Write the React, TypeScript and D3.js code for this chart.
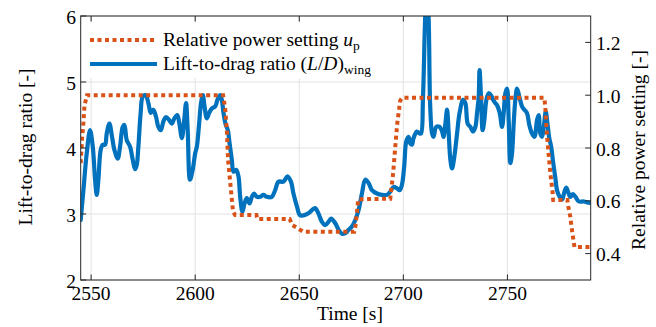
import React from "react";
import * as d3 from "d3";

// ---- data ----
const xTicks = [2550, 2600, 2650, 2700, 2750];
const leftTicks = [2, 3, 4, 5, 6];
const rightTicks = [0.4, 0.6, 0.8, 1.0, 1.2];

// Lift-to-drag ratio (L/D)_wing vs time [s]
const liftToDrag: [number, number][] = [
  [2545.0,2.91],[2546.3,3.36],[2547.9,3.92],[2549.5,4.27],[2550.8,4.02],[2551.9,3.52],[2552.7,3.29],[2553.5,3.52],[2554.6,3.97],[2555.6,4.05],
  [2556.7,4.05],[2557.5,4.22],[2558.8,4.37],[2559.9,4.2],[2561.2,3.97],[2562.8,3.84],[2563.9,4.02],[2565.2,4.32],[2566.0,4.35],[2567.1,4.12],
  [2568.7,4.02],[2570.0,3.82],[2571.1,3.68],[2571.9,3.74],[2572.7,4.02],[2573.8,4.53],[2574.8,4.78],[2576.2,4.8],[2577.5,4.68],[2578.7,4.53],
  [2579.9,4.58],[2581.2,4.47],[2582.3,4.32],[2583.5,4.27],[2584.7,4.4],[2586.0,4.47],[2587.6,4.42],[2588.8,4.37],[2590.0,4.45],[2591.4,4.5],
  [2592.4,4.37],[2593.6,4.15],[2594.7,4.42],[2595.6,4.68],[2596.4,4.27],[2597.5,3.52],[2598.8,3.67],[2600.0,3.92],[2600.8,4.02],[2601.9,4.37],
  [2602.8,4.68],[2603.7,4.8],[2604.4,4.65],[2605.6,4.45],[2606.7,4.53],[2608.0,4.6],[2609.6,4.63],[2610.7,4.73],[2612.0,4.8],[2612.8,4.73],
  [2613.6,4.53],[2614.7,4.35],[2615.7,4.27],[2616.4,4.1],[2617.6,3.82],[2618.4,3.64],[2619.7,3.67],[2620.8,3.57],[2621.6,3.26],[2622.7,3.03],
  [2623.7,3.16],[2624.8,3.24],[2626.1,3.16],[2627.2,3.26],[2628.3,3.31],[2629.6,3.26],[2631.2,3.26],[2632.8,3.29],[2634.4,3.26],[2636.8,3.26],
  [2638.4,3.36],[2640.0,3.49],[2642.4,3.49],[2644.3,3.57],[2646.0,3.49],[2647.2,3.31],[2648.9,3.11],[2650.4,2.98],[2652.0,2.98],[2654.4,3.01],
  [2656.1,3.06],[2657.6,3.09],[2659.2,3.01],[2660.9,2.88],[2662.5,2.83],[2664.0,2.88],[2665.3,2.93],[2667.3,2.86],[2668.9,2.76],[2670.5,2.7],
  [2672.1,2.71],[2673.7,2.76],[2675.3,2.81],[2676.9,2.91],[2678.5,3.06],[2680.1,3.31],[2681.7,3.52],[2683.3,3.47],[2684.9,3.36],[2687.3,3.31],
  [2689.7,3.29],[2692.1,3.29],[2693.7,3.34],[2695.3,3.41],[2696.9,3.39],[2698.2,3.36],[2699.3,3.44],[2700.4,3.72],[2701.4,4.1],[2702.5,4.17],
  [2703.3,4.07],[2704.1,4.05],[2704.9,4.15],[2706.5,4.25],[2707.8,4.22],[2708.5,4.22],[2709.4,4.73],[2710.4,5.9],[2711.3,6.6],[2712.2,5.9],
  [2712.9,4.63],[2713.8,4.22],[2714.5,4.17],[2715.8,4.32],[2717.4,4.32],[2718.6,4.25],[2719.3,4.17],[2720.2,4.37],[2721.0,4.58],[2721.7,4.27],
  [2722.6,3.82],[2723.4,3.69],[2724.5,3.87],[2725.8,4.22],[2727.0,4.53],[2728.7,4.73],[2729.8,4.68],[2730.9,4.37],[2732.2,4.32],[2733.5,4.25],
  [2734.6,4.32],[2735.4,4.53],[2736.2,4.78],[2736.6,5.18],[2737.3,4.78],[2738.1,4.27],[2738.9,4.42],[2739.9,4.73],[2741.0,4.83],[2742.1,4.8],
  [2743.1,4.73],[2744.2,4.68],[2745.0,4.65],[2746.3,4.53],[2747.4,4.32],[2748.2,4.53],[2749.0,4.83],[2749.8,4.9],[2750.6,4.42],[2751.4,3.77],
  [2752.2,3.92],[2753.0,4.37],[2753.8,4.73],[2754.6,4.9],[2755.7,4.78],[2757.0,4.63],[2758.1,4.58],[2759.4,4.53],[2760.5,4.35],[2761.8,4.22],
  [2763.0,4.17],[2764.2,4.42],[2765.0,4.5],[2765.8,4.22],[2766.6,4.17],[2767.4,4.3],[2768.4,4.55],[2769.3,4.35],[2770.1,4.15],[2771.0,4.02],
  [2771.9,3.8],[2773.0,3.55],[2773.9,3.35],[2775.1,3.26],[2776.3,3.22],[2777.0,3.29],[2778.2,3.4],[2779.1,3.34],[2780.2,3.26],[2781.5,3.3],
  [2782.7,3.26],[2784.3,3.19],[2786.7,3.19],[2789.1,3.17],[2790.0,3.17],
];

// Relative power setting u_p vs time [s]
const powerTime = [2545, 2545.6, 2546.3, 2546.8, 2548, 2613.4, 2614.4, 2615.2, 2615.8, 2617.3, 2618.2, 2619.2, 2629.4, 2629.9, 2645.4, 2646.6, 2649.0, 2651.9, 2676.4, 2676.9, 2677.6, 2678.3, 2693.7, 2695.1, 2696.1, 2697.1, 2698.5, 2699.5, 2767.7, 2768.2, 2768.7, 2769.6, 2770.6, 2771.6, 2772.0, 2778.8, 2779.3, 2780.2, 2781.2, 2782.2, 2790];
const powerSetting = [0.743, 0.83, 0.895, 0.96, 1.0, 1.0, 0.95, 0.868, 0.755, 0.63, 0.558, 0.546, 0.546, 0.531, 0.531, 0.508, 0.497, 0.483, 0.483, 0.5, 0.546, 0.606, 0.608, 0.705, 0.804, 0.895, 0.98, 0.99, 0.99, 0.955, 0.88, 0.792, 0.705, 0.64, 0.603, 0.603, 0.576, 0.539, 0.478, 0.425, 0.425];

// ---- layout ----
const W = 656, H = 327;
const L = 80.7, R = 590.7, T = 16, B = 280;
const FONT = "'Liberation Serif', 'Times New Roman', serif";
const FS = 19.5;
const AX = "#262626";
const BLUE = "#0072BD";
const ORANGE = "#D95319";

export default function App() {
  const x = d3.scaleLinear().domain([2545, 2790]).range([L, R]);
  const yL = d3.scaleLinear().domain([2, 6]).range([B, T]);
  const yR = d3.scaleLinear().domain([0.3, 1.3]).range([B, T]);

  const blueLine = d3.line<[number, number]>()
    .x(d => x(d[0])).y(d => yL(d[1]))
    .curve(d3.curveCatmullRom.alpha(0.5))(liftToDrag) || "";
  const powerPts = powerTime.map((t, i) => [t, powerSetting[i]] as [number, number]);
  const orangeLine = d3.line<[number, number]>().x(d => x(d[0])).y(d => yR(d[1]))(powerPts) || "";

  const tk = 5.5;
  return (
    <svg width={W} height={H} style={{ position: "absolute", left: 0, top: 0, background: "#fff" }} fontFamily={FONT}>
      <defs>
        <clipPath id="plotClip">
          <rect x={L} y={T} width={R - L} height={B - T} />
        </clipPath>
      </defs>
      <rect x={0} y={0} width={W} height={H} fill="#fff" />
      {/* grid */}
      <g stroke="#e3e3e3" strokeWidth={1}>
        {xTicks.map(t => <line key={"gx" + t} x1={x(t)} x2={x(t)} y1={T} y2={B} />)}
        {leftTicks.map(t => <line key={"gy" + t} x1={L} x2={R} y1={yL(t)} y2={yL(t)} />)}
      </g>
      {/* data */}
      <g clipPath="url(#plotClip)">
        <path d={blueLine} fill="none" stroke={BLUE} strokeWidth={4.2} strokeLinejoin="round" strokeLinecap="round" />
        <path d={orangeLine} fill="none" stroke={ORANGE} strokeWidth={4} strokeDasharray="4 3.5" />
      </g>
      {/* legend */}
      <rect x={82} y={23} width={318} height={55} fill="#fff" />
      <line x1={90} x2={157} y1={40} y2={40} stroke={ORANGE} strokeWidth={4} strokeDasharray="4 3.5" />
      <line x1={90} x2={157} y1={64} y2={64} stroke={BLUE} strokeWidth={4.2} />
      <text x={163} y={46} fontSize={FS} fill="#000">
        Relative power setting <tspan fontStyle="italic">u</tspan>
        <tspan fontSize={13.5} dy={4}>p</tspan>
      </text>
      <text x={163} y={70} fontSize={FS} fill="#000">
        Lift-to-drag ratio (<tspan fontStyle="italic">L</tspan>/<tspan fontStyle="italic">D</tspan>)
        <tspan fontSize={13.5} dy={4}>wing</tspan>
      </text>
      {/* axes box */}
      <g stroke={AX} strokeWidth={1} fill="none">
        <rect x={L} y={T} width={R - L} height={B - T} />
        {xTicks.map(t => <line key={"tb" + t} x1={x(t)} x2={x(t)} y1={B} y2={B - tk} />)}
        {xTicks.map(t => <line key={"tt" + t} x1={x(t)} x2={x(t)} y1={T} y2={T + tk} />)}
        {leftTicks.map(t => <line key={"tl" + t} x1={L} x2={L + tk} y1={yL(t)} y2={yL(t)} />)}
        {rightTicks.map(t => <line key={"tr" + t} x1={R} x2={R - tk} y1={yR(t)} y2={yR(t)} />)}
      </g>
      {/* tick labels */}
      <g fontSize={FS} fill="#000">
        {xTicks.map(t => <text key={"lx" + t} x={x(t)} y={300} textAnchor="middle">{t}</text>)}
        {leftTicks.map(t => <text key={"ll" + t} x={76} y={yL(t) + 7.5} textAnchor="end">{t}</text>)}
        {rightTicks.map(t => <text key={"lr" + t} x={596} y={yR(t) + 7.5} textAnchor="start">{d3.format(".1f")(t)}</text>)}
      </g>
      {/* axis labels */}
      <text x={350} y={320} fontSize={FS} textAnchor="middle" fill="#000">Time [s]</text>
      <text transform={`translate(32,147) rotate(-90)`} fontSize={FS} textAnchor="middle" fill="#000">Lift-to-drag ratio [-]</text>
      <text transform={`translate(645,150) rotate(-90)`} fontSize={FS} textAnchor="middle" fill="#000">Relative power setting [-]</text>
    </svg>
  );
}
